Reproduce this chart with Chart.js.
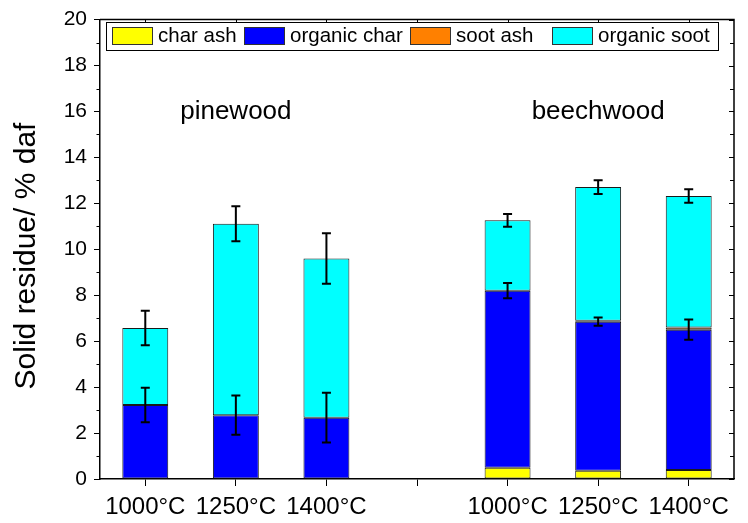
<!DOCTYPE html>
<html>
<head>
<meta charset="utf-8">
<script src="https://cdn.jsdelivr.net/npm/chart.js@4/dist/chart.umd.min.js"></script>
<style>
html,body{margin:0;padding:0;background:#fff;}
#wrap{width:748px;height:523px;position:relative;}
</style>
</head>
<body>
<div id="wrap"><canvas id="c" width="748" height="523"></canvas></div>
<script>
// ---- data ----
const categories = ['1000°C', '1250°C', '1400°C', '', '1000°C', '1250°C', '1400°C'];
const charAsh     = [0, 0, 0, null, 0.49, 0.36, 0.39];
const organicChar = [3.22, 2.78, 2.67, null, 7.71, 6.49, 6.11];
const sootAsh     = [0, 0, 0, null, 0, 0.04, 0.1];
const organicSoot = [3.35, 8.33, 6.93, null, 3.06, 5.82, 5.72];
const charErr     = [0.75, 0.85, 1.08, null, 0.33, 0.18, 0.44];
const sootErr     = [0.75, 0.76, 1.1, null, 0.28, 0.3, 0.29];
const groupLabels = ['pinewood', 'beechwood'];
const groupIndex  = [1, 5];
const groupLabelY = 16;
const yTitle = 'Solid residue/ % daf';

const FONT = '"Liberation Sans", Arial, sans-serif';

const custom = {
  id: 'custom',
  afterDatasetsDraw(chart) {
    const ctx = chart.ctx;
    const x = chart.scales.x, y = chart.scales.y;
    const ca = chart.chartArea;
    ctx.save();
    // error bars
    ctx.strokeStyle = '#000';
    ctx.lineWidth = 2;
    for (let i = 0; i < categories.length; i++) {
      if (charErr[i] == null) continue;
      const px = x.getPixelForValue(i);
      const cTop = (charAsh[i] || 0) + organicChar[i];
      const total = cTop + (sootAsh[i] || 0) + organicSoot[i];
      [[cTop, charErr[i]], [total, sootErr[i]]].forEach(([v, e]) => {
        const y1 = y.getPixelForValue(v + e), y2 = y.getPixelForValue(v - e);
        ctx.beginPath();
        ctx.moveTo(px, y1); ctx.lineTo(px, y2);
        ctx.moveTo(px - 4.5, y1); ctx.lineTo(px + 4.5, y1);
        ctx.moveTo(px - 4.5, y2); ctx.lineTo(px + 4.5, y2);
        ctx.stroke();
      });
    }
    // frame (top & right) and extra ticks
    ctx.lineWidth = 1.5;
    ctx.beginPath();
    ctx.moveTo(ca.left, ca.top); ctx.lineTo(ca.right, ca.top); ctx.lineTo(ca.right, ca.bottom);
    ctx.stroke();
    ctx.lineWidth = 1;
    ctx.beginPath();
    for (let v = 0; v <= 20; v += 1) {
      const py = Math.round(y.getPixelForValue(v)) + 0.5;
      ctx.moveTo(ca.right, py); ctx.lineTo(ca.right - (v % 2 === 0 ? 5 : 4), py);
      if (v % 2 === 1) { ctx.moveTo(ca.left, py); ctx.lineTo(ca.left - 3.5, py); }
    }
    for (let i = 0; i < categories.length; i++) {
      const px = Math.round(x.getPixelForValue(i)) + 0.5;
      ctx.moveTo(px, ca.top); ctx.lineTo(px, ca.top + 4);
    }
    ctx.stroke();
    // group labels
    ctx.fillStyle = '#000';
    ctx.font = '26px ' + FONT;
    ctx.textAlign = 'center';
    ctx.textBaseline = 'middle';
    groupLabels.forEach((t, k) => {
      ctx.fillText(t, x.getPixelForValue(groupIndex[k]), y.getPixelForValue(groupLabelY));
    });
    // y title
    ctx.save();
    ctx.translate(27, 256);
    ctx.rotate(-Math.PI / 2);
    ctx.font = '30px ' + FONT;
    ctx.fillText(yTitle, 0, 0);
    ctx.restore();
    // legend
    const lx0 = 106, ly0 = 22, lw = 612, lh = 28;
    ctx.fillStyle = '#fff';
    ctx.fillRect(lx0, ly0, lw, lh);
    ctx.lineWidth = 1;
    ctx.strokeStyle = '#000';
    ctx.strokeRect(lx0 + 0.5, ly0 + 0.5, lw, lh);
    ctx.font = '20.5px ' + FONT;
    ctx.textAlign = 'left';
    const swatchX = [112, 244, 410, 552];
    chart.data.datasets.forEach((ds, k) => {
      const cx = swatchX[k];
      ctx.fillStyle = ds.backgroundColor;
      ctx.fillRect(cx, 27, 41, 18);
      ctx.strokeStyle = '#333';
      ctx.strokeRect(cx + 0.5, 27.5, 40, 17);
      ctx.fillStyle = '#000';
      ctx.fillText(ds.label, cx + 46, 36.5);
    });
    ctx.restore();
  }
};

new Chart(document.getElementById('c'), {
  type: 'bar',
  data: {
    labels: categories,
    datasets: [
      { label: 'char ash', data: charAsh, backgroundColor: '#FFFF00' },
      { label: 'organic char', data: organicChar, backgroundColor: '#0000FF' },
      { label: 'soot ash', data: sootAsh, backgroundColor: '#FF8000' },
      { label: 'organic soot', data: organicSoot, backgroundColor: '#00FFFF' }
    ].map(d => Object.assign(d, { borderColor: '#1a1a1a', borderWidth: 1, borderSkipped: false,
      categoryPercentage: 1, barPercentage: 0.507 }))
  },
  options: {
    responsive: false,
    animation: false,
    devicePixelRatio: 1,
    layout: { padding: { left: 0, top: 16, right: 14, bottom: 0 } },
    plugins: { legend: { display: false }, tooltip: { enabled: false } },
    scales: {
      x: {
        stacked: true,
        offset: true,
        grid: { display: true, drawOnChartArea: false, drawTicks: true, tickLength: 7, offset: false, color: '#000', lineWidth: 1 },
        border: { display: true, color: '#000', width: 1.5 },
        ticks: { font: { family: FONT, size: 24 }, color: '#000', padding: 7, maxRotation: 0, autoSkip: false },
        afterFit(s) { s.height = 44; }
      },
      y: {
        stacked: true,
        min: 0, max: 20,
        grid: { display: true, drawOnChartArea: false, drawTicks: true, tickLength: 6, color: '#000', lineWidth: 1 },
        border: { display: true, color: '#000', width: 1.5 },
        ticks: { stepSize: 2, font: { family: FONT, size: 21 }, color: '#000', padding: 7 },
        afterFit(s) { s.width = 100; }
      }
    }
  },
  plugins: [custom]
});
</script>
</body>
</html>
